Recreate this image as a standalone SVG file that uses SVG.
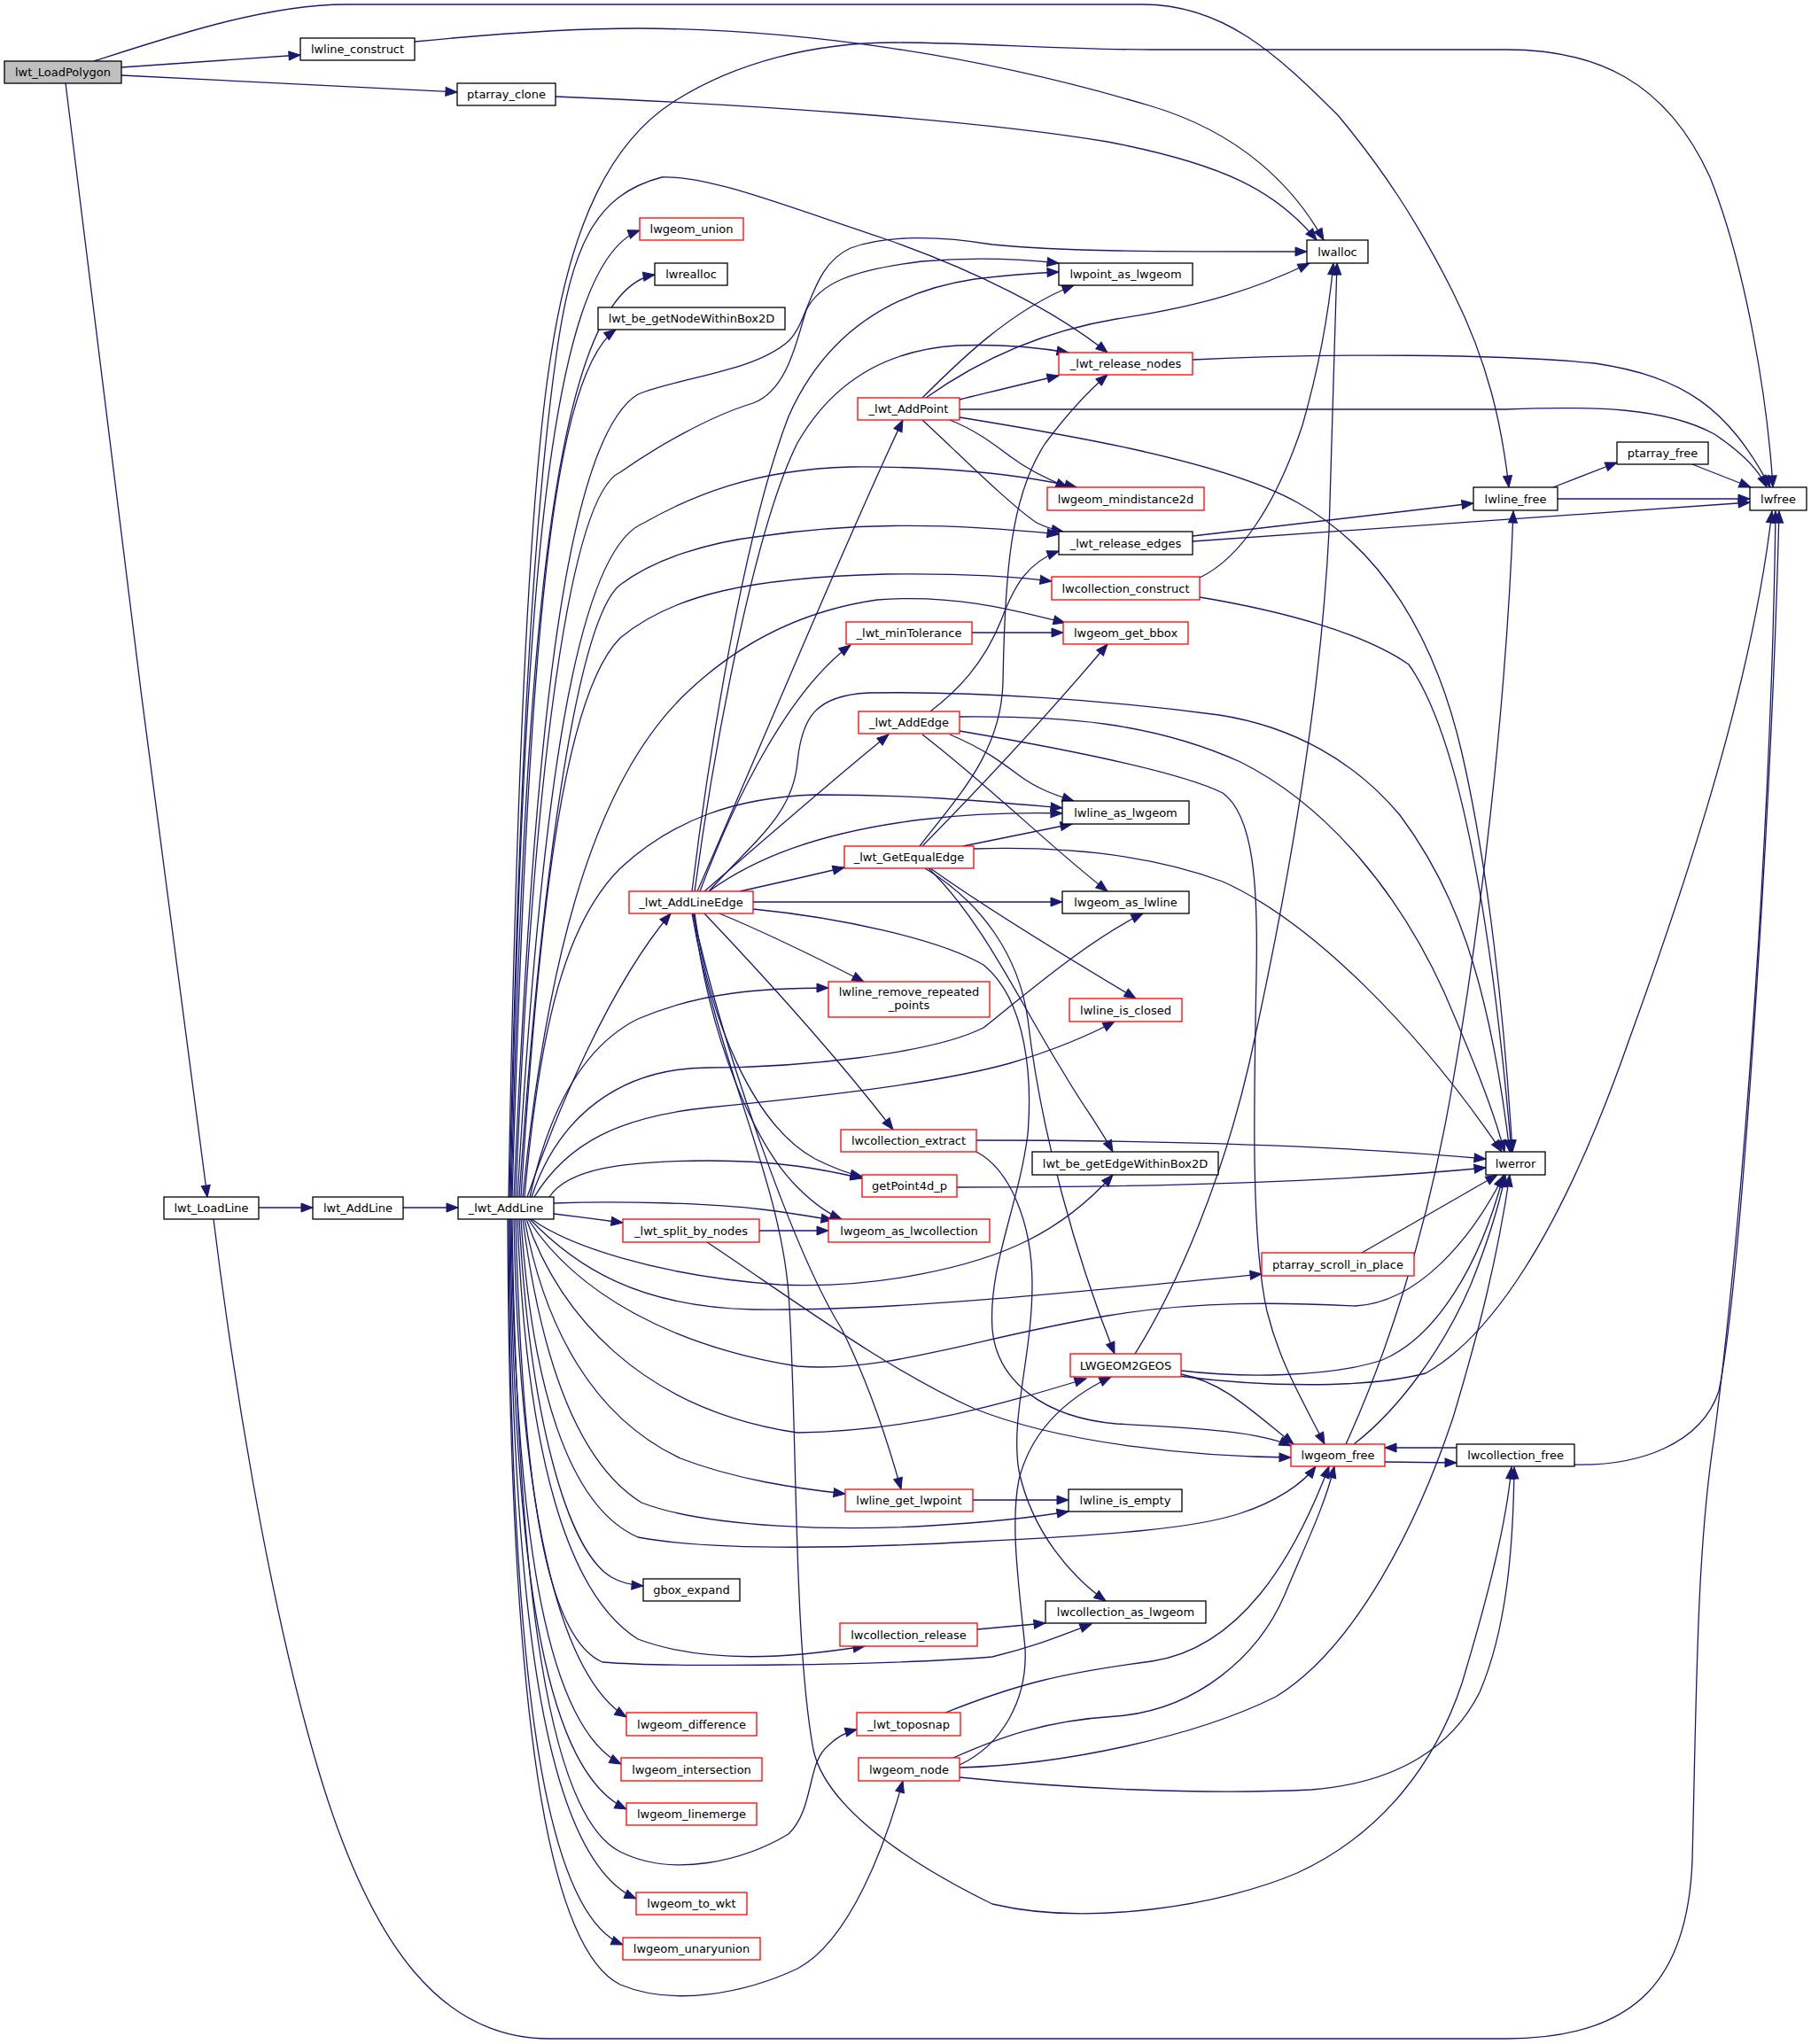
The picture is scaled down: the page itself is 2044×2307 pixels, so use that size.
<svg xmlns="http://www.w3.org/2000/svg" width="2044" height="2307" viewBox="0 0 2044 2307">
<style>
.nd rect{fill:#ffffff;stroke:#000000;stroke-width:1.3}
.nd.r rect{stroke:#ff0000}
.nd.g rect{fill:#bfbfbf}
.nd text{font-family:"DejaVu Sans","Liberation Sans",sans-serif;font-size:13px;fill:#000000;text-anchor:middle}
#edges path{fill:none;stroke:#191970;stroke-width:1.3}
</style>
<defs>
<marker id="ah" markerUnits="userSpaceOnUse" markerWidth="14" markerHeight="11" refX="13" refY="5" orient="auto" overflow="visible">
<path d="M0,0 L13,5 L0,10 z" fill="#191970" stroke="#191970" stroke-width="1"/>
</marker>
</defs>
<rect x="0" y="0" width="2044" height="2307" fill="#ffffff"/>
<g id="edges" marker-end="url(#ah)">
<path d="M137,76 L339,62" marker-end="url(#ah)"/>
<path d="M137,85 L516,104" marker-end="url(#ah)"/>
<path d="M74,94 C120,480 180,950 234,1351" marker-end="url(#ah)"/>
<path d="M106,69 C190,42 300,5 390,5 L1290,5 C1380,5 1440,60 1510,130 C1560,190 1600,250 1640,330 C1680,410 1695,480 1703,550" marker-end="url(#ah)"/>
<path d="M468,47 C560,38 640,32 720,32 C900,33 1100,60 1300,120 C1400,150 1460,210 1494,271" marker-end="url(#ah)"/>
<path d="M627,109 C850,118 1100,135 1250,160 C1380,185 1440,215 1486,271" marker-end="url(#ah)"/>
<path d="M292,1363 L353,1363" marker-end="url(#ah)"/>
<path d="M455,1363 L517,1363" marker-end="url(#ah)"/>
<path d="M241,1376 C260,1530 300,1800 360,2000 C420,2200 500,2301 620,2301 L1700,2301 C1850,2301 1905,2230 1910,2100 C1915,1900 1915,1750 1935,1620 C1970,1350 2000,900 2004,577" marker-end="url(#ah)"/>
<path d="M574,1351 C582,900 596,560 622,400 C645,250 690,160 760,115 C830,70 920,48 1010,48 C1100,48 1200,56 1300,56 L1700,56 C1800,56 1880,90 1930,200 C1970,300 1995,450 2001,550" marker-end="url(#ah)"/>
<path d="M575,1351 C585,900 600,600 628,400 C645,280 670,220 747,200 C800,198 880,230 1000,270 C1100,305 1190,350 1250,398" marker-end="url(#ah)"/>
<path d="M576,1351 C590,700 615,300 722,260" marker-end="url(#ah)"/>
<path d="M577,1351 C592,750 620,330 739,310" marker-end="url(#ah)"/>
<path d="M578,1351 C595,800 615,430 695,372" marker-end="url(#ah)"/>
<path d="M580,1351 C600,900 630,500 720,445 C770,425 850,420 890,385 C915,360 915,300 960,280 C1000,265 1060,266 1120,276 C1200,284 1300,284 1475,284" marker-end="url(#ah)"/>
<path d="M582,1351 C600,900 640,560 700,533 C740,505 800,470 850,455 C890,440 900,380 910,350 C925,320 960,305 1040,295 C1100,290 1150,292 1195,297" marker-end="url(#ah)"/>
<path d="M584,1351 C610,900 650,620 727,590 C780,560 850,530 960,527 C1060,526 1150,535 1215,550" marker-end="url(#ah)"/>
<path d="M586,1351 C610,1000 650,700 700,660 C740,630 800,612 860,605 C950,592 1050,588 1195,603" marker-end="url(#ah)"/>
<path d="M588,1351 C610,1000 640,780 700,720 C760,670 850,652 1000,648 C1080,647 1140,650 1187,656" marker-end="url(#ah)"/>
<path d="M590,1351 C620,1050 680,870 777,780 C830,730 900,690 990,677 C1080,670 1150,690 1202,703" marker-end="url(#ah)"/>
<path d="M592,1351 C610,1150 640,1040 700,980 C760,925 830,900 920,897 C1040,897 1120,905 1199,912" marker-end="url(#ah)"/>
<path d="M595,1351 C630,1250 690,1110 757,1031" marker-end="url(#ah)"/>
<path d="M598,1351 C620,1250 660,1180 720,1150 C790,1120 860,1115 935,1115" marker-end="url(#ah)"/>
<path d="M600,1351 C630,1260 700,1205 800,1205 C900,1205 1050,1190 1110,1160 C1160,1120 1230,1060 1290,1031" marker-end="url(#ah)"/>
<path d="M603,1351 C640,1290 700,1260 800,1250 C900,1240 1050,1225 1140,1200 C1190,1185 1230,1168 1258,1153" marker-end="url(#ah)"/>
<path d="M620,1351 C640,1320 700,1310 800,1310 C880,1310 930,1320 973,1330" marker-end="url(#ah)"/>
<path d="M625,1358 C700,1355 800,1358 860,1365 C900,1370 920,1374 940,1377" marker-end="url(#ah)"/>
<path d="M625,1370 C650,1373 680,1377 703,1380" marker-end="url(#ah)"/>
<path d="M600,1376 C640,1405 740,1440 880,1450 C990,1455 1100,1430 1160,1400 C1200,1380 1230,1355 1256,1326" marker-end="url(#ah)"/>
<path d="M598,1376 C650,1430 720,1475 850,1478 C1000,1480 1200,1460 1424,1438" marker-end="url(#ah)"/>
<path d="M596,1376 C650,1460 760,1520 900,1542 C1000,1550 1100,1510 1250,1485 C1350,1468 1450,1470 1530,1474 C1600,1470 1660,1400 1697,1327" marker-end="url(#ah)"/>
<path d="M594,1376 C630,1480 720,1590 900,1617 C1030,1615 1130,1585 1226,1556" marker-end="url(#ah)"/>
<path d="M592,1376 C615,1500 670,1600 768,1646 C830,1670 900,1680 954,1686" marker-end="url(#ah)"/>
<path d="M590,1376 C610,1530 650,1650 724,1696 C800,1725 950,1728 1050,1722 C1120,1718 1170,1712 1206,1706" marker-end="url(#ah)"/>
<path d="M588,1376 C600,1560 640,1700 720,1735 C800,1750 950,1748 1100,1740 C1250,1733 1350,1725 1400,1708 C1440,1695 1470,1675 1485,1655" marker-end="url(#ah)"/>
<path d="M586,1376 C598,1600 640,1750 690,1780 C700,1786 712,1789 726,1790" marker-end="url(#ah)"/>
<path d="M584,1376 C594,1640 640,1800 720,1850 C800,1880 900,1870 976,1858" marker-end="url(#ah)"/>
<path d="M582,1376 C590,1700 620,1850 680,1876 C750,1882 1000,1880 1120,1870 C1170,1858 1200,1845 1232,1833" marker-end="url(#ah)"/>
<path d="M580,1376 C586,1700 630,1890 707,1938" marker-end="url(#ah)"/>
<path d="M578,1376 C584,1800 620,2050 700,2090 C760,2120 840,2100 890,2070 C920,2040 910,1990 935,1970 C945,1960 955,1955 967,1952" marker-end="url(#ah)"/>
<path d="M577,1376 C582,1750 620,1950 701,1991" marker-end="url(#ah)"/>
<path d="M576,1376 C580,1800 620,2000 707,2042" marker-end="url(#ah)"/>
<path d="M575,1376 C578,1850 620,2100 718,2143" marker-end="url(#ah)"/>
<path d="M574,1376 C576,1900 615,2160 703,2195" marker-end="url(#ah)"/>
<path d="M573,1376 C575,1950 620,2200 700,2240 C760,2265 840,2250 900,2222 C960,2190 1000,2080 1019,2010" marker-end="url(#ah)"/>
<path d="M781,1006 C800,850 840,600 890,470 C930,380 1000,330 1100,315 C1140,310 1170,308 1195,307" marker-end="url(#ah)"/>
<path d="M784,1006 C805,850 850,600 900,500 C940,430 1000,395 1080,390 C1130,388 1170,392 1206,398" marker-end="url(#ah)"/>
<path d="M787,1006 C860,840 950,620 1019,474" marker-end="url(#ah)"/>
<path d="M790,1006 C830,900 890,780 960,728" marker-end="url(#ah)"/>
<path d="M795,1006 C860,950 940,880 1003,829" marker-end="url(#ah)"/>
<path d="M800,1006 C850,970 920,940 1040,925 C1100,918 1150,917 1199,918" marker-end="url(#ah)"/>
<path d="M835,1006 C880,996 920,987 953,979" marker-end="url(#ah)"/>
<path d="M850,1018 L1199,1018" marker-end="url(#ah)"/>
<path d="M812,1031 C870,1055 930,1085 975,1108" marker-end="url(#ah)"/>
<path d="M850,1026 C950,1036 1060,1060 1110,1089 C1160,1130 1165,1220 1160,1280 C1150,1360 1115,1430 1120,1500 C1125,1560 1180,1600 1260,1607 C1350,1612 1420,1615 1457,1632" marker-end="url(#ah)"/>
<path d="M795,1031 C870,1110 950,1200 1008,1275" marker-end="url(#ah)"/>
<path d="M784,1031 C800,1150 850,1270 920,1308 C940,1318 955,1324 973,1328" marker-end="url(#ah)"/>
<path d="M783,1031 C800,1170 850,1290 900,1340 C920,1360 935,1370 950,1376" marker-end="url(#ah)"/>
<path d="M782,1031 C820,1200 900,1420 950,1500 C980,1560 1000,1620 1017,1681" marker-end="url(#ah)"/>
<path d="M781,1031 C810,1200 880,1330 890,1460 C900,1600 895,1850 918,1975 C930,2030 1000,2090 1120,2149 C1230,2175 1380,2150 1464,2114 C1560,2070 1620,1990 1650,1900 C1680,1800 1700,1720 1706,1656" marker-end="url(#ah)"/>
<path d="M800,1006 C850,950 895,920 900,860 C905,810 920,785 980,782 C1100,780 1250,790 1376,807 C1460,820 1530,860 1580,920 C1640,1000 1680,1100 1704,1300" marker-end="url(#ah)"/>
<path d="M1041,449 C1080,410 1140,350 1212,322" marker-end="url(#ah)"/>
<path d="M1045,449 C1100,410 1170,375 1260,360 C1360,345 1420,325 1478,297" marker-end="url(#ah)"/>
<path d="M1083,451 C1120,442 1160,432 1195,424" marker-end="url(#ah)"/>
<path d="M1083,462 L1700,462 C1800,458 1880,460 1935,490 C1965,510 1985,530 1994,550" marker-end="url(#ah)"/>
<path d="M1083,471 C1200,490 1380,520 1464,567 C1560,620 1620,720 1650,850 C1680,980 1698,1150 1707,1300" marker-end="url(#ah)"/>
<path d="M1072,474 C1100,485 1120,500 1140,515 C1160,530 1180,540 1205,550" marker-end="url(#ah)"/>
<path d="M1041,474 C1080,510 1140,570 1170,590 C1180,595 1190,598 1200,600" marker-end="url(#ah)"/>
<path d="M1097,714 L1200,714" marker-end="url(#ah)"/>
<path d="M1050,803 C1080,780 1110,750 1130,700 C1145,660 1160,635 1195,622" marker-end="url(#ah)"/>
<path d="M1072,829 C1110,845 1130,860 1150,875 C1170,890 1190,897 1212,904" marker-end="url(#ah)"/>
<path d="M1041,829 C1120,890 1190,960 1250,1006" marker-end="url(#ah)"/>
<path d="M1083,809 C1200,808 1300,815 1400,860 C1500,910 1580,1010 1630,1120 C1660,1190 1685,1250 1698,1300" marker-end="url(#ah)"/>
<path d="M1083,825 C1200,845 1330,870 1380,895 C1415,920 1420,1000 1418,1100 C1415,1250 1412,1400 1430,1480 C1445,1540 1470,1580 1495,1630" marker-end="url(#ah)"/>
<path d="M1087,955 C1130,946 1170,938 1210,930" marker-end="url(#ah)"/>
<path d="M1099,958 C1200,955 1300,965 1380,995 C1480,1040 1600,1160 1695,1300" marker-end="url(#ah)"/>
<path d="M1041,955 C1100,895 1180,810 1250,727" marker-end="url(#ah)"/>
<path d="M1038,955 C1080,900 1130,850 1132,770 C1134,650 1140,560 1180,500 C1210,460 1230,440 1250,423" marker-end="url(#ah)"/>
<path d="M1050,980 C1120,1030 1220,1090 1282,1127" marker-end="url(#ah)"/>
<path d="M1048,980 C1110,1040 1150,1130 1200,1210 C1220,1245 1240,1270 1256,1300" marker-end="url(#ah)"/>
<path d="M1044,980 C1110,1020 1150,1080 1160,1150 C1175,1280 1215,1420 1258,1528" marker-end="url(#ah)"/>
<path d="M1102,1287 C1300,1287 1500,1292 1677,1308" marker-end="url(#ah)"/>
<path d="M1102,1300 C1140,1320 1165,1380 1165,1450 C1165,1530 1140,1600 1150,1660 C1165,1730 1210,1780 1248,1807" marker-end="url(#ah)"/>
<path d="M1080,1340 C1300,1340 1500,1335 1677,1318" marker-end="url(#ah)"/>
<path d="M857,1389 L935,1389" marker-end="url(#ah)"/>
<path d="M798,1402 C900,1470 1000,1545 1100,1590 C1200,1630 1350,1644 1457,1645" marker-end="url(#ah)"/>
<path d="M1098,1693 L1206,1693" marker-end="url(#ah)"/>
<path d="M1103,1839 L1180,1832" marker-end="url(#ah)"/>
<path d="M1067,1933 C1150,1900 1200,1888 1300,1875 C1400,1860 1460,1760 1500,1655" marker-end="url(#ah)"/>
<path d="M1083,1992 C1130,1970 1160,1920 1157,1860 C1150,1790 1140,1720 1150,1670 C1165,1610 1210,1575 1254,1554" marker-end="url(#ah)"/>
<path d="M1076,1984 C1130,1960 1180,1942 1260,1937 C1350,1930 1420,1870 1450,1800 C1475,1740 1495,1700 1506,1655" marker-end="url(#ah)"/>
<path d="M1083,1995 C1200,1992 1350,1960 1440,1915 C1530,1860 1600,1720 1640,1600 C1670,1500 1690,1420 1704,1326" marker-end="url(#ah)"/>
<path d="M1083,2006 C1200,2018 1350,2026 1480,2020 C1580,2012 1640,1970 1670,1910 C1700,1840 1708,1750 1709,1656" marker-end="url(#ah)"/>
<path d="M1281,1528 C1330,1450 1380,1330 1410,1200 C1450,1020 1490,800 1500,600 C1505,450 1508,350 1509,297" marker-end="url(#ah)"/>
<path d="M1333,1547 C1400,1555 1500,1555 1560,1535 C1620,1510 1670,1430 1697,1326" marker-end="url(#ah)"/>
<path d="M1330,1553 C1420,1565 1540,1568 1609,1550 C1680,1510 1760,1400 1840,1170 C1920,950 1980,750 2000,577" marker-end="url(#ah)"/>
<path d="M1333,1551 C1380,1560 1410,1590 1460,1630" marker-end="url(#ah)"/>
<path d="M1519,1630 C1560,1540 1610,1400 1640,1220 C1670,1050 1700,800 1708,577" marker-end="url(#ah)"/>
<path d="M1528,1630 C1580,1590 1630,1520 1660,1450 C1680,1400 1692,1360 1699,1326" marker-end="url(#ah)"/>
<path d="M1563,1650 L1644,1651" marker-end="url(#ah)"/>
<path d="M1644,1634 L1563,1634" marker-end="url(#ah)"/>
<path d="M1777,1653 C1850,1655 1920,1630 1940,1570 C1965,1450 2000,900 2008,577" marker-end="url(#ah)"/>
<path d="M1537,1414 L1690,1326" marker-end="url(#ah)"/>
<path d="M1753,550 L1825,522" marker-end="url(#ah)"/>
<path d="M1758,563 L1975,563" marker-end="url(#ah)"/>
<path d="M1910,524 L1976,550" marker-end="url(#ah)"/>
<path d="M1346,605 L1663,568" marker-end="url(#ah)"/>
<path d="M1346,611 L1975,567" marker-end="url(#ah)"/>
<path d="M1346,406 C1500,398 1700,400 1800,410 C1900,425 1950,460 1998,550" marker-end="url(#ah)"/>
<path d="M1354,652 C1400,630 1440,570 1470,480 C1490,410 1500,350 1505,297" marker-end="url(#ah)"/>
<path d="M1354,674 C1450,690 1540,715 1590,750 C1640,820 1680,1000 1706,1300" marker-end="url(#ah)"/>
</g>
<g id="node-lwt_LoadPolygon" class="nd g"><rect x="5" y="69" width="132" height="25"/><text x="71" y="86">lwt_LoadPolygon</text></g>
<g id="node-lwline_construct" class="nd"><rect x="339" y="43" width="129" height="25"/><text x="403.5" y="60">lwline_construct</text></g>
<g id="node-ptarray_clone" class="nd"><rect x="516" y="94" width="111" height="25"/><text x="571.5" y="111">ptarray_clone</text></g>
<g id="node-lwt_LoadLine" class="nd"><rect x="185" y="1351" width="107" height="25"/><text x="238.5" y="1368">lwt_LoadLine</text></g>
<g id="node-lwt_AddLine" class="nd"><rect x="353" y="1351" width="102" height="25"/><text x="404" y="1368">lwt_AddLine</text></g>
<g id="node-_lwt_AddLine" class="nd"><rect x="517" y="1351" width="108" height="25"/><text x="571" y="1368">_lwt_AddLine</text></g>
<g id="node-lwgeom_union" class="nd r"><rect x="722" y="246" width="117" height="25"/><text x="780.5" y="263">lwgeom_union</text></g>
<g id="node-lwrealloc" class="nd"><rect x="739" y="297" width="82" height="25"/><text x="780" y="314">lwrealloc</text></g>
<g id="node-lwt_be_getNodeWithinBox2D" class="nd"><rect x="675" y="347" width="211" height="25"/><text x="780.5" y="364">lwt_be_getNodeWithinBox2D</text></g>
<g id="node-_lwt_AddPoint" class="nd r"><rect x="968" y="449" width="115" height="25"/><text x="1025.5" y="466">_lwt_AddPoint</text></g>
<g id="node-_lwt_minTolerance" class="nd r"><rect x="955" y="702" width="142" height="25"/><text x="1026" y="719">_lwt_minTolerance</text></g>
<g id="node-_lwt_AddEdge" class="nd r"><rect x="969" y="803" width="114" height="25"/><text x="1026" y="820">_lwt_AddEdge</text></g>
<g id="node-_lwt_GetEqualEdge" class="nd r"><rect x="953" y="955" width="146" height="25"/><text x="1026" y="972">_lwt_GetEqualEdge</text></g>
<g id="node-_lwt_AddLineEdge" class="nd r"><rect x="710" y="1006" width="140" height="25"/><text x="780" y="1023">_lwt_AddLineEdge</text></g>
<g id="node-lwline_remove_repeated_points" class="nd r"><rect x="935" y="1108" width="182" height="40"/><text x="1026" y="1124">lwline_remove_repeated</text><text x="1026" y="1139">_points</text></g>
<g id="node-lwcollection_extract" class="nd r"><rect x="949" y="1275" width="153" height="25"/><text x="1025.5" y="1292">lwcollection_extract</text></g>
<g id="node-getPoint4d_p" class="nd r"><rect x="973" y="1326" width="107" height="25"/><text x="1026.5" y="1343">getPoint4d_p</text></g>
<g id="node-_lwt_split_by_nodes" class="nd r"><rect x="703" y="1376" width="154" height="26"/><text x="780" y="1393.5">_lwt_split_by_nodes</text></g>
<g id="node-lwgeom_as_lwcollection" class="nd r"><rect x="935" y="1376" width="182" height="26"/><text x="1026" y="1393.5">lwgeom_as_lwcollection</text></g>
<g id="node-lwline_get_lwpoint" class="nd r"><rect x="954" y="1681" width="144" height="25"/><text x="1026" y="1698">lwline_get_lwpoint</text></g>
<g id="node-gbox_expand" class="nd"><rect x="726" y="1782" width="109" height="25"/><text x="780.5" y="1799">gbox_expand</text></g>
<g id="node-lwcollection_release" class="nd r"><rect x="948" y="1832" width="155" height="26"/><text x="1025.5" y="1849.5">lwcollection_release</text></g>
<g id="node-lwgeom_difference" class="nd r"><rect x="707" y="1933" width="147" height="26"/><text x="780.5" y="1950.5">lwgeom_difference</text></g>
<g id="node-_lwt_toposnap" class="nd r"><rect x="967" y="1933" width="117" height="26"/><text x="1025.5" y="1950.5">_lwt_toposnap</text></g>
<g id="node-lwgeom_intersection" class="nd r"><rect x="701" y="1984" width="159" height="26"/><text x="780.5" y="2001.5">lwgeom_intersection</text></g>
<g id="node-lwgeom_node" class="nd r"><rect x="969" y="1984" width="114" height="26"/><text x="1026" y="2001.5">lwgeom_node</text></g>
<g id="node-lwgeom_linemerge" class="nd r"><rect x="707" y="2035" width="147" height="25"/><text x="780.5" y="2052">lwgeom_linemerge</text></g>
<g id="node-lwgeom_to_wkt" class="nd r"><rect x="718" y="2136" width="125" height="25"/><text x="780.5" y="2153">lwgeom_to_wkt</text></g>
<g id="node-lwgeom_unaryunion" class="nd r"><rect x="703" y="2187" width="155" height="25"/><text x="780.5" y="2204">lwgeom_unaryunion</text></g>
<g id="node-lwalloc" class="nd"><rect x="1475" y="271" width="69" height="26"/><text x="1509.5" y="288.5">lwalloc</text></g>
<g id="node-lwpoint_as_lwgeom" class="nd"><rect x="1195" y="297" width="151" height="25"/><text x="1270.5" y="314">lwpoint_as_lwgeom</text></g>
<g id="node-_lwt_release_nodes" class="nd r"><rect x="1195" y="398" width="151" height="25"/><text x="1270.5" y="415">_lwt_release_nodes</text></g>
<g id="node-lwgeom_mindistance2d" class="nd r"><rect x="1182" y="550" width="177" height="26"/><text x="1270.5" y="567.5">lwgeom_mindistance2d</text></g>
<g id="node-_lwt_release_edges" class="nd"><rect x="1195" y="600" width="151" height="26"/><text x="1270.5" y="617.5">_lwt_release_edges</text></g>
<g id="node-lwcollection_construct" class="nd r"><rect x="1187" y="651" width="167" height="26"/><text x="1270.5" y="668.5">lwcollection_construct</text></g>
<g id="node-lwgeom_get_bbox" class="nd r"><rect x="1200" y="702" width="141" height="25"/><text x="1270.5" y="719">lwgeom_get_bbox</text></g>
<g id="node-lwline_as_lwgeom" class="nd"><rect x="1199" y="904" width="143" height="26"/><text x="1270.5" y="921.5">lwline_as_lwgeom</text></g>
<g id="node-lwgeom_as_lwline" class="nd"><rect x="1199" y="1006" width="143" height="25"/><text x="1270.5" y="1023">lwgeom_as_lwline</text></g>
<g id="node-lwline_is_closed" class="nd r"><rect x="1207" y="1127" width="127" height="26"/><text x="1270.5" y="1144.5">lwline_is_closed</text></g>
<g id="node-lwt_be_getEdgeWithinBox2D" class="nd"><rect x="1165" y="1300" width="210" height="26"/><text x="1270" y="1317.5">lwt_be_getEdgeWithinBox2D</text></g>
<g id="node-LWGEOM2GEOS" class="nd r"><rect x="1208" y="1528" width="125" height="26"/><text x="1270.5" y="1545.5">LWGEOM2GEOS</text></g>
<g id="node-lwline_is_empty" class="nd"><rect x="1206" y="1681" width="128" height="25"/><text x="1270" y="1698">lwline_is_empty</text></g>
<g id="node-lwcollection_as_lwgeom" class="nd"><rect x="1180" y="1807" width="181" height="25"/><text x="1270.5" y="1824">lwcollection_as_lwgeom</text></g>
<g id="node-lwline_free" class="nd"><rect x="1663" y="550" width="95" height="26"/><text x="1710.5" y="567.5">lwline_free</text></g>
<g id="node-ptarray_free" class="nd"><rect x="1825" y="499" width="103" height="25"/><text x="1876.5" y="516">ptarray_free</text></g>
<g id="node-lwfree" class="nd"><rect x="1975" y="550" width="64" height="26"/><text x="2007" y="567.5">lwfree</text></g>
<g id="node-lwerror" class="nd"><rect x="1677" y="1300" width="67" height="26"/><text x="1710.5" y="1317.5">lwerror</text></g>
<g id="node-ptarray_scroll_in_place" class="nd r"><rect x="1424" y="1414" width="172" height="26"/><text x="1510" y="1431.5">ptarray_scroll_in_place</text></g>
<g id="node-lwgeom_free" class="nd r"><rect x="1457" y="1630" width="106" height="25"/><text x="1510" y="1647">lwgeom_free</text></g>
<g id="node-lwcollection_free" class="nd"><rect x="1644" y="1630" width="133" height="25"/><text x="1710.5" y="1647">lwcollection_free</text></g>
</svg>
